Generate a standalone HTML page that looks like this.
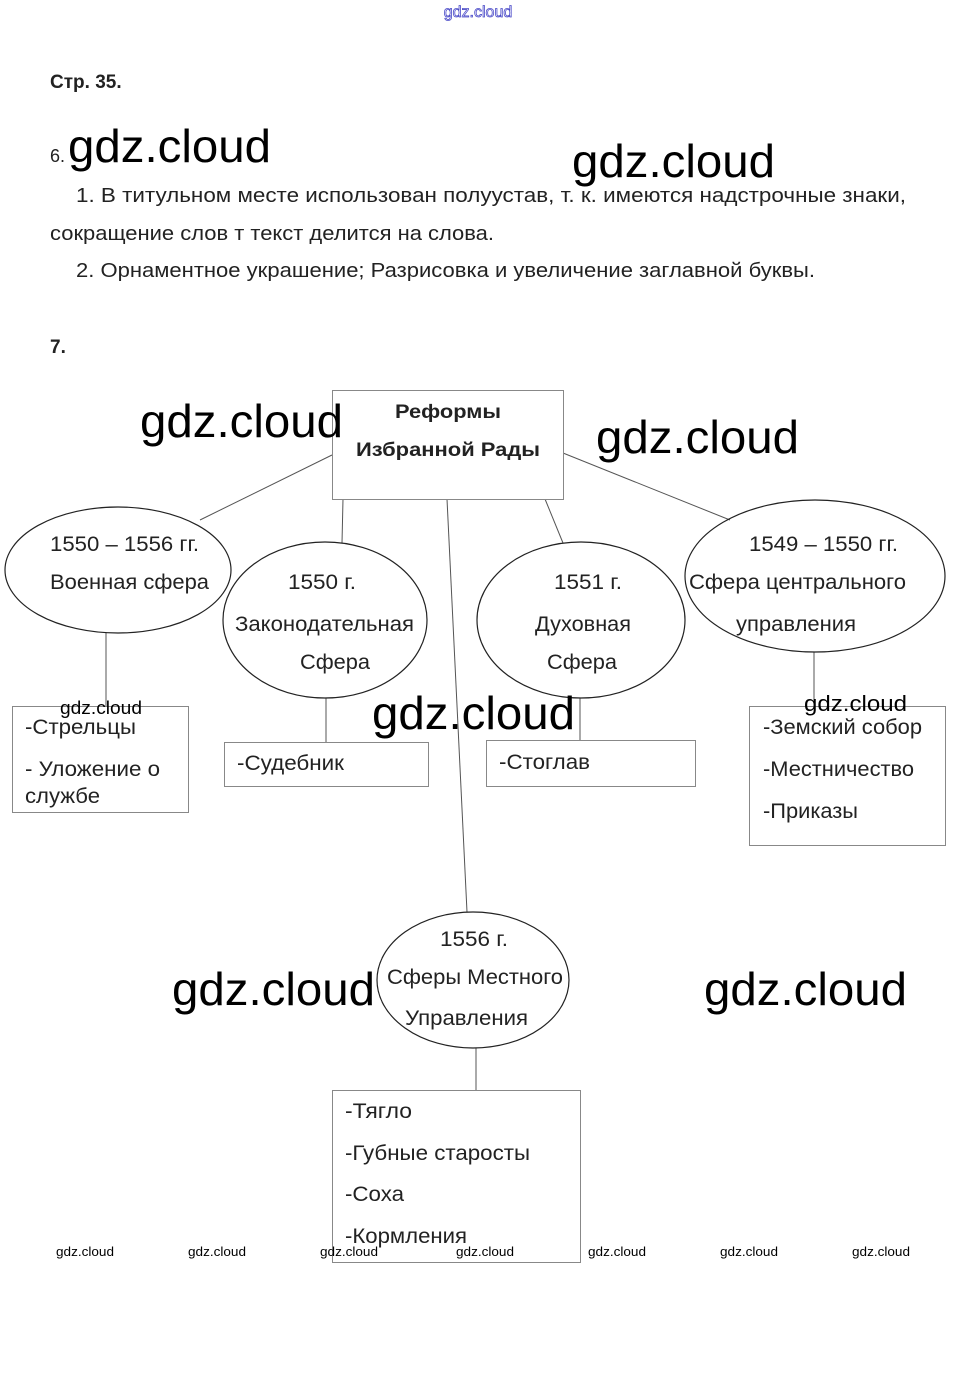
<!DOCTYPE html>
<html><head><meta charset="utf-8">
<style>
html,body{margin:0;padding:0;background:#fff;}
svg{display:block;}
text{font-family:"Liberation Sans",sans-serif;fill:#222;}
.w{font-family:"Liberation Sans",sans-serif;fill:#000;}
</style></head>
<body>
<svg width="957" height="1381" viewBox="0 0 957 1381" xmlns="http://www.w3.org/2000/svg">
<text x="478" y="17" font-size="16" text-anchor="middle" style="fill:#fff;stroke:#4a4ac8;stroke-width:0.8">gdz.cloud</text>
<text x="50" y="88" font-size="19" font-weight="bold">Стр. 35. </text>
<text x="50" y="162" font-size="18">6.</text>
<text class="w" x="68" y="162" font-size="46" textLength="203" lengthAdjust="spacingAndGlyphs">gdz.cloud</text>
<text class="w" x="572" y="177" font-size="46" textLength="203" lengthAdjust="spacingAndGlyphs">gdz.cloud</text>
<g font-size="20" lengthAdjust="spacingAndGlyphs">
<text x="76" y="202" textLength="830" lengthAdjust="spacingAndGlyphs">1. В титульном месте использован полуустав, т. к. имеются надстрочные знаки,</text>
<text x="50" y="240" textLength="444" lengthAdjust="spacingAndGlyphs">сокращение слов т текст делится на слова.</text>
<text x="76" y="277" textLength="739" lengthAdjust="spacingAndGlyphs">2. Орнаментное украшение; Разрисовка и увеличение заглавной буквы.</text>
</g>
<text x="50" y="353" font-size="19" font-weight="bold">7.</text>

<g stroke="#555" stroke-width="1" fill="none">
<line x1="332" y1="455" x2="200" y2="520"/>
<line x1="343" y1="499" x2="342" y2="543"/>
<line x1="447" y1="499" x2="467" y2="912"/>
<line x1="545" y1="499" x2="563" y2="543"/>
<line x1="563" y1="453" x2="730" y2="520"/>
<line x1="106" y1="633" x2="106" y2="706"/>
<line x1="326" y1="698" x2="326" y2="742"/>
<line x1="580" y1="698" x2="580" y2="740"/>
<line x1="814" y1="652" x2="814" y2="706"/>
<line x1="476" y1="1048" x2="476" y2="1090"/>
</g>
<g stroke="#888" stroke-width="1" fill="#fff">
<rect x="332.5" y="390.5" width="231" height="109"/>
<rect x="12.5" y="706.5" width="176" height="106"/>
<rect x="224.5" y="742.5" width="204" height="44"/>
<rect x="486.5" y="740.5" width="209" height="46"/>
<rect x="749.5" y="706.5" width="196" height="139"/>
<rect x="332.5" y="1090.5" width="248" height="172"/>
</g>
<g stroke="#222" stroke-width="1.2" fill="none">
<ellipse cx="118" cy="570" rx="113" ry="63"/>
<ellipse cx="325" cy="620" rx="102" ry="78"/>
<ellipse cx="581" cy="620" rx="104" ry="78"/>
<ellipse cx="815" cy="576" rx="130" ry="76"/>
<ellipse cx="473" cy="980" rx="96" ry="68"/>
</g>

<text x="395" y="418" font-size="19" font-weight="bold" textLength="106" lengthAdjust="spacingAndGlyphs">Реформы</text>
<text x="356" y="456" font-size="19" font-weight="bold" textLength="184" lengthAdjust="spacingAndGlyphs">Избранной Рады</text>

<g font-size="21">
<text x="50" y="551" textLength="149" lengthAdjust="spacingAndGlyphs">1550 – 1556 гг.</text>
<text x="50" y="589" textLength="159" lengthAdjust="spacingAndGlyphs">Военная сфера</text>
<text x="288" y="589" textLength="68" lengthAdjust="spacingAndGlyphs">1550 г.</text>
<text x="235" y="631" textLength="179" lengthAdjust="spacingAndGlyphs">Законодательная</text>
<text x="300" y="669" textLength="70" lengthAdjust="spacingAndGlyphs">Сфера</text>
<text x="554" y="589" textLength="68" lengthAdjust="spacingAndGlyphs">1551 г.</text>
<text x="535" y="631" textLength="96" lengthAdjust="spacingAndGlyphs">Духовная</text>
<text x="547" y="669" textLength="70" lengthAdjust="spacingAndGlyphs">Сфера</text>
<text x="749" y="551" textLength="149" lengthAdjust="spacingAndGlyphs">1549 – 1550 гг.</text>
<text x="689" y="589" textLength="217" lengthAdjust="spacingAndGlyphs">Сфера центрального</text>
<text x="736" y="631" textLength="120" lengthAdjust="spacingAndGlyphs">управления</text>
<text x="25" y="734" textLength="111" lengthAdjust="spacingAndGlyphs">-Стрельцы</text>
<text x="25" y="776" textLength="135" lengthAdjust="spacingAndGlyphs">- Уложение о</text>
<text x="25" y="803" textLength="75" lengthAdjust="spacingAndGlyphs">службе</text>
<text x="237" y="770" textLength="107" lengthAdjust="spacingAndGlyphs">-Судебник</text>
<text x="499" y="769" textLength="91" lengthAdjust="spacingAndGlyphs">-Стоглав</text>
<text x="763" y="734" textLength="159" lengthAdjust="spacingAndGlyphs">-Земский собор</text>
<text x="763" y="776" textLength="151" lengthAdjust="spacingAndGlyphs">-Местничество</text>
<text x="763" y="818" textLength="95" lengthAdjust="spacingAndGlyphs">-Приказы</text>
<text x="440" y="946" textLength="68" lengthAdjust="spacingAndGlyphs">1556 г.</text>
<text x="387" y="984" textLength="176" lengthAdjust="spacingAndGlyphs">Сферы Местного</text>
<text x="405" y="1025" textLength="123" lengthAdjust="spacingAndGlyphs">Управления</text>
<text x="345" y="1118" textLength="67" lengthAdjust="spacingAndGlyphs">-Тягло</text>
<text x="345" y="1160" textLength="185" lengthAdjust="spacingAndGlyphs">-Губные старосты</text>
<text x="345" y="1201" textLength="59" lengthAdjust="spacingAndGlyphs">-Соха</text>
<text x="345" y="1243" textLength="122" lengthAdjust="spacingAndGlyphs">-Кормления</text>
</g>

<text class="w" x="140" y="437" font-size="46" textLength="203" lengthAdjust="spacingAndGlyphs">gdz.cloud</text>
<text class="w" x="596" y="453" font-size="46" textLength="203" lengthAdjust="spacingAndGlyphs">gdz.cloud</text>
<text class="w" x="372" y="729" font-size="46" textLength="203" lengthAdjust="spacingAndGlyphs">gdz.cloud</text>
<text class="w" x="172" y="1005" font-size="46" textLength="203" lengthAdjust="spacingAndGlyphs">gdz.cloud</text>
<text class="w" x="704" y="1005" font-size="46" textLength="203" lengthAdjust="spacingAndGlyphs">gdz.cloud</text>
<text class="w" x="60" y="714" font-size="18" textLength="82" lengthAdjust="spacingAndGlyphs">gdz.cloud</text>
<text class="w" x="804" y="711" font-size="22" textLength="103" lengthAdjust="spacingAndGlyphs">gdz.cloud</text>
<g font-size="13">
<text class="w" x="56" y="1256" textLength="58" lengthAdjust="spacingAndGlyphs">gdz.cloud</text>
<text class="w" x="188" y="1256" textLength="58" lengthAdjust="spacingAndGlyphs">gdz.cloud</text>
<text class="w" x="320" y="1256" textLength="58" lengthAdjust="spacingAndGlyphs">gdz.cloud</text>
<text class="w" x="456" y="1256" textLength="58" lengthAdjust="spacingAndGlyphs">gdz.cloud</text>
<text class="w" x="588" y="1256" textLength="58" lengthAdjust="spacingAndGlyphs">gdz.cloud</text>
<text class="w" x="720" y="1256" textLength="58" lengthAdjust="spacingAndGlyphs">gdz.cloud</text>
<text class="w" x="852" y="1256" textLength="58" lengthAdjust="spacingAndGlyphs">gdz.cloud</text>
</g>
</svg>
</body></html>
